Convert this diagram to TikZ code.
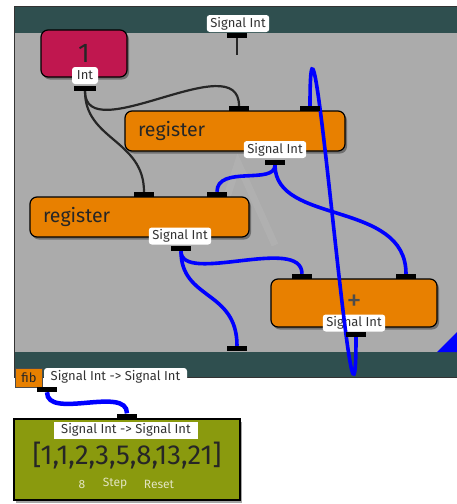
\documentclass[tikz,border=0pt]{standalone}
\usepackage{fontspec}
\setmainfont{Fira Sans}
\usetikzlibrary{shadows}
\pgfdeclarelayer{fg}
\pgfsetlayers{main,fg}
\definecolor{frameteal}{HTML}{2F4F4F}
\definecolor{canvas}{HTML}{ABABAB}
\definecolor{crim}{HTML}{C0174F}
\definecolor{orng}{HTML}{E88000}
\definecolor{olv}{HTML}{8A9A0E}
\definecolor{lbltxt}{HTML}{333333}
\definecolor{pale}{HTML}{E2E4C0}
\begin{document}
\begin{tikzpicture}[x=1pt,y=-1pt,
  box/.style={draw=black, line width=1.2pt, rounded corners=7pt, inner sep=0pt,
    drop shadow={shadow xshift=2pt,shadow yshift=-2.5pt,opacity=0.35,fill=black}},
  lbl/.style={fill=white, rounded corners=3pt, text=lbltxt,
    font=\fontsize{13}{14}\selectfont, minimum height=17pt, inner xsep=3.5pt, inner ysep=0pt},
  port/.style={fill=black, minimum width=20pt, minimum height=5pt, inner sep=0pt},
  wire/.style={draw=black!85, line width=2.2pt},
  bwire/.style={draw=blue, line width=3.6pt},
  regbox/.style={box, fill=orng, minimum height=40pt, inner xsep=13pt, align=left,
    font=\fontsize{19.5}{21}\selectfont, text=black!85},
  ctl/.style={font=\fontsize{12}{13}\selectfont, text=pale, inner sep=0pt}
]
\useasboundingbox (0,0) rectangle (457,504);
\begin{scope}
\clip (0,0) rectangle (457,504);
% frame
\fill[canvas] (15,33) rectangle (470,352);
\fill[frameteal] (15,7) rectangle (470,33);
\fill[frameteal] (15,352) rectangle (470,377);
\draw[black!80, line width=1.5pt] (14.5,6.5) rectangle (475,377.5);
\fill[blue] (437,352) -- (457,352) -- (457,332) -- cycle;
\draw[white, opacity=0.07, line width=7pt] (226,200) -- (238,163) -- (275,245);

% nodes
\node[box, fill=crim, minimum width=86pt, minimum height=47pt,
  font=\fontsize{27}{27}\selectfont, text=black!85] (one) at (84,53.5) {1};
\node[lbl, minimum width=26pt] (intl) at (85,75.5) {Int};

\node[regbox, text width=194pt] (reg1) at (235,131) {register};
\node[lbl] (r1l) at (275,149.5) {Signal Int};

\node[regbox, text width=193pt] (reg2) at (139.5,217) {register};
\node[lbl] (r2l) at (180,236) {Signal Int};

\node[box, fill=orng, minimum width=166pt, minimum height=48pt,
  font=\fontsize{30}{30}\selectfont, text=black!70] (plus) at (354,303) {+};
\node[lbl] (pl) at (354,323) {Signal Int};

\node[lbl] (topl) at (238,23.5) {Signal Int};
\coordinate (tops) at (237,55);

\node[draw=black!70, fill=orng, minimum width=27pt, minimum height=19pt, inner sep=0pt,
  font=\fontsize{13}{14}\selectfont, text=black!85] (fib) at (29,377.5) {fib};
\node[lbl, minimum width=143pt, minimum height=18pt] (fibl) at (115.5,377) {Signal Int -> Signal Int};

\node[draw=black, line width=1.5pt, fill=olv, minimum width=226pt, minimum height=81pt,
  drop shadow={shadow xshift=2pt,shadow yshift=-2.5pt,opacity=0.35,fill=black}] (res) at (127,459.5) {};
\node[fill=white, text=lbltxt, minimum width=144pt, minimum height=17pt, inner sep=0pt,
  font=\fontsize{13}{14}\selectfont] (resl) at (126,430) {Signal Int -> Signal Int};
\node[font=\fontsize{27.5}{28}\selectfont, text=black!85, inner sep=0pt] (vals) at (127,456) {[1,1,2,3,5,8,13,21]};
\node[ctl] (n8) at (82,484) {8};
\node[ctl] (stp) at (115,484) {Step};
\node[ctl] (rst) at (159,484) {Reset};

% ports
\begin{pgfonlayer}{fg}
\node[port, minimum width=22pt] (intp) at (85,88.5) {};
\node[port] (r1a) at (239,108.5) {};
\node[port] (r1b) at (310,108.5) {};
\node[port] (r1o) at (275,162.5) {};
\node[port] (r2a) at (144,194.5) {};
\node[port] (r2b) at (217,194.5) {};
\node[port] (r2o) at (181,248.5) {};
\node[port] (pa) at (302,276.5) {};
\node[port] (pb) at (406,276.5) {};
\node[port] (po) at (356,334.5) {};
\node[port] (topp) at (237,35) {};
\node[port] (botp) at (237,348.5) {};
\node[port] (fibp) at (47,389.5) {};
\node[port] (resp) at (127,416) {};
\end{pgfonlayer}

% wires
\draw[wire] (intp.south) .. controls +(0,59) and +(0,-61) .. (r1a.north);
\draw[wire] (intp.south) .. controls +(0,49) and +(0,-52) .. (r2a.north);
\draw[wire] (topp.south) -- (tops);
\draw[bwire] (r1o.south) .. controls +(0,20) and +(0,-27) .. (r2b.north);
\draw[bwire] (r1o.south) .. controls +(0,60) and +(0,-74) .. (pb.north);
\draw[bwire] (r2o.south) .. controls +(0,34) and +(0,-39) .. (pa.north);
\draw[bwire] (r2o.south) .. controls +(0,49) and +(0,-56) .. (botp.north);
\draw[bwire] (po.south) .. controls +(0,190) and +(0,-190) .. (r1b.north);
\draw[bwire, line width=4.5pt] (fibp.south) .. controls +(0,28) and +(0,-28) .. (resp.north);
\end{scope}
\end{tikzpicture}
\end{document}
